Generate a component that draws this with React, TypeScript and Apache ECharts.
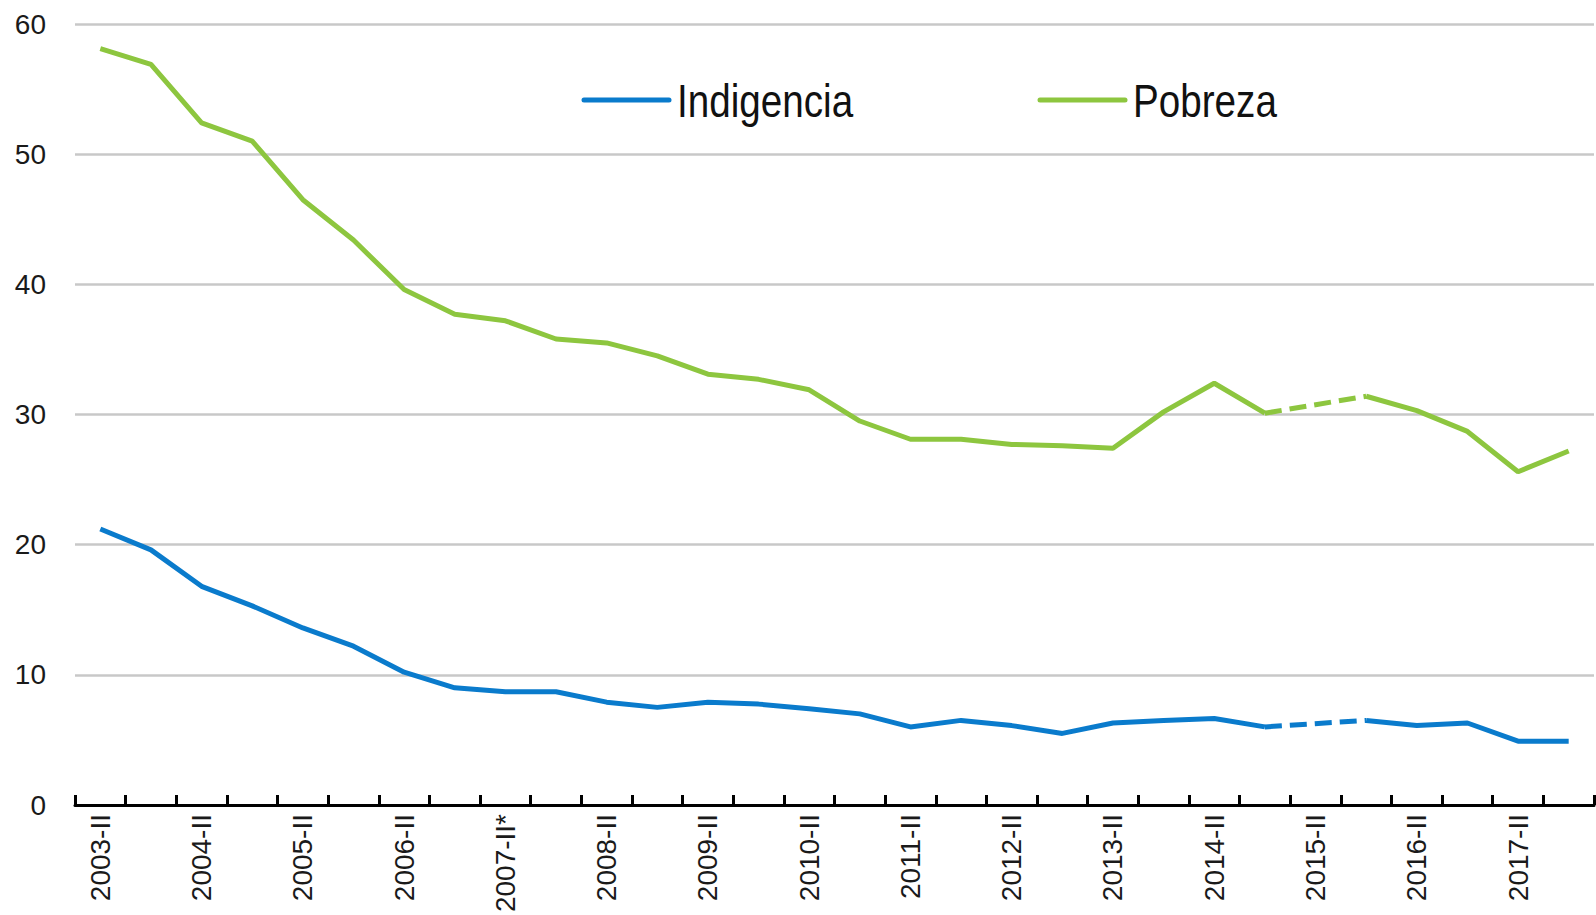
import React, { useEffect, useRef } from "react";
import * as echarts from "echarts";

const categories = [
  "2003-II", "2004-I", "2004-II", "2005-I", "2005-II", "2006-I", "2006-II", "2007-I",
  "2007-II*", "2008-I", "2008-II", "2009-I", "2009-II", "2010-I", "2010-II", "2011-I",
  "2011-II", "2012-I", "2012-II", "2013-I", "2013-II", "2014-I", "2014-II", "2015-I",
  "2015-II", "2016-I", "2016-II", "2017-I", "2017-II", "2018-I",
];

const indigencia = [
  21.2, 19.6, 16.8, 15.3, 13.6, 12.2, 10.2, 9.0, 8.7, 8.7,
  7.9, 7.5, 7.9, 7.75, 7.4, 7.0, 6.0, 6.5, 6.1, 5.5,
  6.3, 6.5, 6.65, 6.0, null, 6.5, 6.1, 6.3, 4.9, 4.9,
];

const pobreza = [
  58.1, 56.9, 52.4, 51.0, 46.5, 43.4, 39.6, 37.7, 37.2, 35.8,
  35.5, 34.5, 33.1, 32.7, 31.9, 29.5, 28.1, 28.1, 27.7, 27.6,
  27.4, 30.2, 32.4, 30.1, null, 31.4, 30.3, 28.7, 25.6, 27.2,
];

// dashed bridge over the missing semester
const indigenciaGap = categories.map((_, i) => (i === 23 ? 6.0 : i === 25 ? 6.5 : null));
const pobrezaGap = categories.map((_, i) => (i === 23 ? 30.1 : i === 25 ? 31.4 : null));

const seriesNames = ["Indigencia", "Pobreza"];

const yTicks = { min: 0, max: 60, interval: 10 };

const BLUE = "#0a7bcc";
const GREEN = "#8dc63f";
const SANS = "'Liberation Sans', Arial, sans-serif";

function legendItem(name: string, color: string, x: number, y: number) {
  return {
    type: "group",
    children: [
      {
        type: "line",
        shape: { x1: x, y1: y, x2: x + 85, y2: y },
        style: { stroke: color, lineWidth: 5, lineCap: "round" },
      },
      {
        type: "text",
        x: x + 93,
        y: y + 1,
        scaleX: 0.84,
        style: {
          text: name,
          x: 0,
          y: 0,
          fontFamily: SANS,
          fontSize: 46,
          fill: "#111",
          textVerticalAlign: "middle",
          verticalAlign: "middle",
          textAlign: "left",
          align: "left",
        },
      },
    ],
  };
}

export default function App() {
  const ref = useRef<HTMLDivElement>(null);
  useEffect(() => {
    if (!ref.current) return;
    const chart = echarts.init(ref.current, undefined, { renderer: "svg" });
    chart.setOption({
      animation: false,
      backgroundColor: "#ffffff",
      grid: { left: 75, right: 2, top: 24, bottom: 110, containLabel: false, outerBoundsMode: "none" },
      graphic: [
        legendItem(seriesNames[0], BLUE, 584, 100),
        legendItem(seriesNames[1], GREEN, 1040, 100),
      ],
      xAxis: {
        type: "category",
        data: categories,
        boundaryGap: true,
        axisLine: { show: true, lineStyle: { color: "#000", width: 3 } },
        axisTick: { show: true, inside: true, length: 10, interval: 0, lineStyle: { color: "#000", width: 3 } },
        axisLabel: {
          interval: 1,
          rotate: 90,
          margin: 9,
          fontFamily: SANS,
          fontSize: 28,
          color: "#1a1a1a",
        },
        splitLine: { show: false },
      },
      yAxis: {
        type: "value",
        min: yTicks.min,
        max: yTicks.max,
        interval: yTicks.interval,
        axisLine: { show: false },
        axisTick: { show: false },
        axisLabel: { fontFamily: SANS, fontSize: 28, color: "#1a1a1a", margin: 29 },
        splitLine: { lineStyle: { color: "#c8c8c8", width: 2.5 } },
      },
      series: [
        {
          name: seriesNames[0],
          type: "line",
          data: indigencia,
          symbol: "none",
          connectNulls: false,
          lineStyle: { color: BLUE, width: 5 },
          itemStyle: { color: BLUE },
          z: 3,
        },
        {
          name: seriesNames[1],
          type: "line",
          data: pobreza,
          symbol: "none",
          connectNulls: false,
          lineStyle: { color: GREEN, width: 5 },
          itemStyle: { color: GREEN },
          z: 3,
        },
        {
          name: "Indigencia (gap)",
          type: "line",
          data: indigenciaGap,
          symbol: "none",
          connectNulls: true,
          lineStyle: { color: BLUE, width: 5, type: [17, 8] },
          itemStyle: { color: BLUE },
          z: 2,
        },
        {
          name: "Pobreza (gap)",
          type: "line",
          data: pobrezaGap,
          symbol: "none",
          connectNulls: true,
          lineStyle: { color: GREEN, width: 5, type: [17, 8] },
          itemStyle: { color: GREEN },
          z: 2,
        },
      ],
    });
    return () => chart.dispose();
  }, []);
  return (
    <div
      ref={ref}
      style={{ position: "fixed", left: 0, top: 0, width: 1596, height: 915, background: "#fff" }}
    />
  );
}
